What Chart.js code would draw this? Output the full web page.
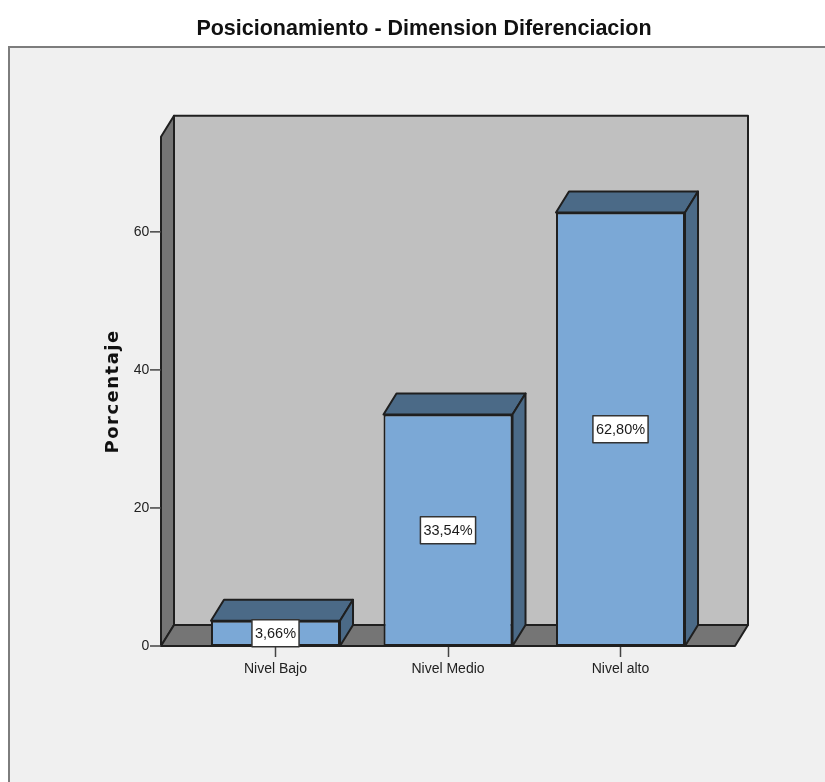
<!DOCTYPE html>
<html><head><meta charset="utf-8">
<style>html,body{margin:0;padding:0;background:#fff}canvas{display:block}</style>
<script src="https://cdn.jsdelivr.net/npm/chart.js@4/dist/chart.umd.min.js"></script>
</head><body><canvas id="c" width="825" height="782"></canvas>
<script>
const categories = ['Nivel Bajo', 'Nivel Medio', 'Nivel alto'];
const percentages = [3.66, 33.54, 62.80];
const yTicks = [0, 20, 40, 60];
const chartTitle = 'Posicionamiento - Dimension Diferenciacion';
const yTitle = 'Porcentaje';

const DX = 13, DY = -21, FLOOR_PAD = 28.25;
const INK = '#1f1f1f';
function poly(ctx, pts, fill) {
  ctx.beginPath();
  pts.forEach((p, i) => i ? ctx.lineTo(p[0], p[1]) : ctx.moveTo(p[0], p[1]));
  ctx.closePath();
  ctx.fillStyle = fill; ctx.fill();
  ctx.lineWidth = 2; ctx.strokeStyle = INK; ctx.lineJoin = 'round'; ctx.stroke();
}
const scene = {
  id: 'scene',
  afterLayout(chart) { const t = chart.titleBlock; t.left += 70.6; t.right += 70.6; },
  beforeDraw(chart) {
    const c = chart.ctx;
    c.save();
    c.fillStyle = '#fff'; c.fillRect(0, 0, 825, 782);
    c.fillStyle = '#f0f0f0'; c.fillRect(9, 47, 816, 735);
    c.strokeStyle = '#7d7d7d'; c.lineWidth = 2;
    c.beginPath(); c.moveTo(9, 782); c.lineTo(9, 47); c.lineTo(825, 47); c.stroke();
    c.restore();
  },
  beforeDatasetsDraw(chart) {
    const c = chart.ctx, a = chart.chartArea, y = chart.scales.y;
    const l = a.left - FLOOR_PAD, r = a.right + FLOOR_PAD, t = a.top, b = a.bottom;
    c.save();
    poly(c, [[l + DX, t + DY], [r + DX, t + DY], [r + DX, b + DY], [l + DX, b + DY]], '#c0c0c0');
    poly(c, [[l, t], [l + DX, t + DY], [l + DX, b + DY], [l, b]], '#757575');
    poly(c, [[l, b], [l + DX, b + DY], [r + DX, b + DY], [r, b]], '#757575');
    c.strokeStyle = '#444'; c.lineWidth = 1.5;
    yTicks.forEach(v => {
      const p = y.getPixelForValue(v);
      c.beginPath(); c.moveTo(l - 11, p); c.lineTo(l, p); c.stroke();
    });
    c.restore();
  },
  afterDatasetsDraw(chart) {
    const c = chart.ctx, meta = chart.getDatasetMeta(0), y = chart.scales.y;
    c.save();
    meta.data.forEach(el => {
      const x0 = el.x - el.width / 2, x1 = el.x + el.width / 2, top = el.y, base = el.base;
      poly(c, [[x0, top], [x0 + DX, top + DY], [x1 + DX, top + DY], [x1, top]], '#4b6a87');
      poly(c, [[x1, top], [x1 + DX, top + DY], [x1 + DX, base + DY], [x1, base]], '#4b6a87');
    });
    c.font = '14.5px "Liberation Sans"';
    c.textAlign = 'center'; c.textBaseline = 'middle';
    meta.data.forEach((el, i) => {
      const v = percentages[i], text = v.toFixed(2).replace('.', ',') + '%';
      const cy = y.getPixelForValue(v / 2), w = c.measureText(text).width + 6, h = 27;
      c.fillStyle = '#fff'; c.fillRect(el.x - w / 2, cy - h / 2, w, h);
      c.strokeStyle = '#333'; c.lineWidth = 1.5; c.strokeRect(el.x - w / 2, cy - h / 2, w, h);
      c.fillStyle = '#1a1a1a'; c.fillText(text, el.x, cy + 0.5);
    });
    c.restore();
  }
};

new Chart(document.getElementById('c'), {
  type: 'bar',
  data: {
    labels: categories,
    datasets: [{
      data: percentages,
      backgroundColor: '#7ba8d6',
      borderColor: INK,
      borderWidth: 2,
      borderSkipped: false,
      categoryPercentage: 1,
      barPercentage: 0.748
    }]
  },
  plugins: [scene],
  options: {
    responsive: false,
    animation: false,
    layout: { padding: { left: 0, right: 118.25, top: 0, bottom: 0 } },
    plugins: {
      legend: { display: false },
      tooltip: { enabled: false },
      title: {
        display: true,
        text: chartTitle,
        color: '#111',
        font: { family: '"Liberation Sans"', size: 21.5, weight: 'bold' },
        padding: { top: 16, bottom: 95 }
      }
    },
    scales: {
      x: {
        type: 'category',
        afterFit(s) { s.height = 136; },
        border: { display: false },
        grid: { display: true, drawOnChartArea: false, tickLength: 11, tickColor: '#444', tickWidth: 1.5, offset: false },
        ticks: { color: '#222', autoSkip: false, maxRotation: 0, padding: 4, font: { family: '"Liberation Sans"', size: 14 } }
      },
      y: {
        min: 0,
        max: 73.77,
        afterFit(s) { s.width = 189.25; },
        afterBuildTicks(s) { s.ticks = yTicks.map(v => ({ value: v })); },
        afterUpdate(s) {
          if (s.__spaced) return;
          s.__spaced = true;
          const draw = s.drawTitle;
          s.drawTitle = function (...args) {
            s.ctx.letterSpacing = '1.5px';
            draw.apply(this, args);
            s.ctx.letterSpacing = '0px';
          };
        },
        border: { display: false },
        grid: { display: false, drawTicks: false },
        ticks: { color: '#222', padding: 40, font: { family: '"Liberation Sans"', size: 14 } },
        title: {
          display: true,
          text: yTitle,
          color: '#111',
          font: { family: '"DejaVu Sans"', size: 18, weight: 'bold' },
          padding: { top: 103, bottom: 0 }
        }
      }
    }
  }
});
</script></body></html>
